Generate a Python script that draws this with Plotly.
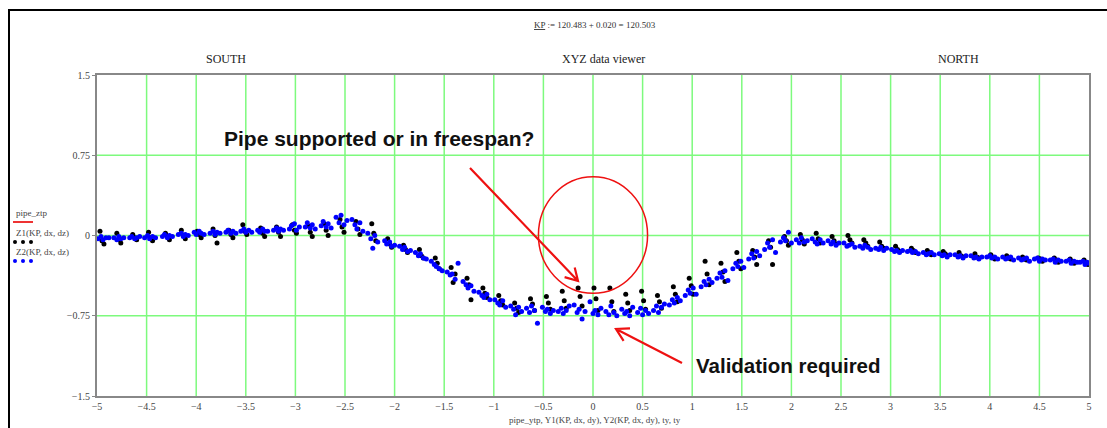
import plotly.graph_objects as go

# ---------------- data ----------------
# Z2(KP,dx,dz) - blue points
z2_x = [
    -4.99, -4.96, -4.94, -4.91, -4.88,
    -4.83, -4.80, -4.78, -4.76, -4.73,
    -4.67, -4.65, -4.62, -4.60, -4.57,
    -4.52, -4.49, -4.47, -4.44, -4.41,
    -4.34, -4.32, -4.29, -4.27, -4.24,
    -4.18, -4.15, -4.13, -4.11, -4.08,
    -4.02, -4.00, -3.97, -3.95, -3.92,
    -3.86, -3.83, -3.81, -3.79, -3.76,
    -3.70, -3.68, -3.65, -3.63, -3.60,
    -3.55, -3.52, -3.50, -3.47, -3.44,
    -3.38, -3.36, -3.33, -3.31, -3.28,
    -3.22, -3.19, -3.17, -3.15, -3.12,
    -3.06, -3.04, -3.01, -2.99, -2.96,
    -2.90, -2.88, -2.85, -2.83, -2.80,
    -2.74, -2.72, -2.69, -2.67, -2.64,
    -2.59, -2.56, -2.54, -2.51, -2.48,
    -2.43, -2.40, -2.38, -2.35, -2.32,
    -2.27, -2.24, -2.22, -2.20, -2.17,
    -2.10, -2.08, -2.05, -2.03, -2.00,
    -1.95, -1.92, -1.90, -1.87, -1.84,
    -1.79, -1.76, -1.74, -1.71, -1.68,
    -1.63, -1.60, -1.58, -1.55, -1.52,
    -1.47, -1.44, -1.42, -1.39, -1.36,
    -1.31, -1.28, -1.26, -1.23, -1.20,
    -1.15, -1.12, -1.10, -1.07, -1.04,
    -0.99, -0.96, -0.94, -0.91, -0.88,
    -0.83, -0.80, -0.78, -0.75, -0.72,
    -0.67, -0.64, -0.62, -0.59, -0.56,
    -0.51, -0.48, -0.46, -0.43, -0.40,
    -0.35, -0.32, -0.30, -0.27, -0.24,
    -0.19, -0.16, -0.14, -0.11, -0.08,
    -0.03, 0.00, 0.02, 0.05, 0.08,
    0.13, 0.16, 0.18, 0.21, 0.24,
    0.29, 0.32, 0.34, 0.37, 0.40,
    0.45, 0.48, 0.50, 0.53, 0.56,
    0.61, 0.64, 0.66, 0.69, 0.72,
    0.77, 0.80, 0.82, 0.85, 0.88,
    0.93, 0.96, 0.98, 1.01, 1.04,
    1.09, 1.12, 1.14, 1.17, 1.20,
    1.25, 1.28, 1.30, 1.33, 1.36,
    1.41, 1.44, 1.46, 1.49, 1.52,
    1.57, 1.60, 1.62, 1.65, 1.68,
    1.73, 1.76, 1.78, 1.81, 1.84,
    1.89, 1.92, 1.94, 1.97, 2.00,
    2.05, 2.08, 2.10, 2.13, 2.16,
    2.21, 2.24, 2.26, 2.29, 2.32,
    2.37, 2.40, 2.42, 2.45, 2.48,
    2.53, 2.56, 2.58, 2.61, 2.64,
    2.69, 2.72, 2.74, 2.77, 2.80,
    2.85, 2.88, 2.90, 2.93, 2.96,
    3.01, 3.04, 3.06, 3.09, 3.12,
    3.17, 3.20, 3.22, 3.25, 3.28,
    3.33, 3.36, 3.38, 3.41, 3.44,
    3.49, 3.52, 3.54, 3.57, 3.60,
    3.65, 3.68, 3.70, 3.73, 3.76,
    3.81, 3.84, 3.86, 3.89, 3.92,
    3.97, 4.00, 4.02, 4.05, 4.08,
    4.13, 4.16, 4.18, 4.21, 4.24,
    4.29, 4.32, 4.34, 4.37, 4.40,
    4.45, 4.48, 4.50, 4.53, 4.56,
    4.61, 4.64, 4.66, 4.69, 4.72,
    4.77, 4.80, 4.82, 4.85, 4.88,
    4.91, 4.94, 4.96, 4.98, 5.00,
]
z2_y = [
    -0.03, -0.01, -0.04, -0.02, -0.02,
    -0.02, -0.04, -0.01, -0.03, -0.02,
    -0.02, -0.01, -0.03, -0.02, -0.01,
    -0.02, 0.00, -0.03, -0.01, -0.02,
    -0.01, 0.01, -0.02, 0.00, -0.01,
    0.01, 0.02, -0.01, 0.01, 0.00,
    0.03, 0.01, 0.04, 0.02, 0.01,
    0.02, 0.04, 0.01, 0.03, 0.02,
    0.03, 0.05, 0.02, 0.04, 0.02,
    0.04, 0.06, 0.03, 0.05, 0.03,
    0.05, 0.03, 0.06, 0.04, 0.04,
    0.05, 0.07, 0.04, 0.06, 0.05,
    0.06, 0.09, 0.11, 0.05, 0.08,
    0.08, 0.12, 0.07, 0.10, 0.06,
    0.09, 0.13, 0.08, 0.11, 0.07,
    0.17, 0.12, 0.19, 0.10, 0.14,
    0.15, 0.10, 0.06, 0.12, 0.04,
    0.02, -0.03, -0.12, 0.00, -0.06,
    -0.05, -0.08, -0.06, -0.10, -0.09,
    -0.10, -0.13, -0.11, -0.15, -0.14,
    -0.16, -0.19, -0.17, -0.21, -0.22,
    -0.24, -0.27, -0.29, -0.31, -0.33,
    -0.34, -0.37, -0.36, -0.41, -0.26,
    -0.43, -0.46, -0.49, -0.47, -0.52,
    -0.53, -0.56, -0.58, -0.55, -0.60,
    -0.60, -0.63, -0.65, -0.61, -0.67,
    -0.66, -0.69, -0.74, -0.67, -0.71,
    -0.68, -0.72, -0.66, -0.70, -0.82,
    -0.67, -0.71, -0.69, -0.73, -0.70,
    -0.71, -0.68, -0.73, -0.70, -0.66,
    -0.65, -0.72, -0.69, -0.78, -0.71,
    -0.62, -0.73, -0.70, -0.74, -0.68,
    -0.71, -0.74, -0.66, -0.72, -0.75,
    -0.69, -0.73, -0.71, -0.75, -0.67,
    -0.72, -0.68, -0.74, -0.70, -0.73,
    -0.70, -0.66, -0.72, -0.67, -0.64,
    -0.65, -0.60, -0.63, -0.58, -0.61,
    -0.56, -0.51, -0.54, -0.49, -0.55,
    -0.48, -0.43, -0.46, -0.41, -0.44,
    -0.40, -0.35, -0.39, -0.33, -0.42,
    -0.31, -0.26, -0.29, -0.24, -0.30,
    -0.22, -0.17, -0.21, -0.15, -0.19,
    -0.13, -0.07, -0.11, -0.04, -0.16,
    -0.06, -0.02, -0.05, 0.03, -0.07,
    -0.04, -0.07, -0.02, -0.06, -0.05,
    -0.03, -0.06, -0.08, -0.04, -0.07,
    -0.05, -0.08, -0.06, -0.09, -0.07,
    -0.07, -0.10, -0.09, -0.08, -0.11,
    -0.10, -0.12, -0.09, -0.11, -0.13,
    -0.12, -0.13, -0.11, -0.14, -0.12,
    -0.13, -0.15, -0.14, -0.16, -0.14,
    -0.15, -0.14, -0.16, -0.15, -0.17,
    -0.16, -0.18, -0.17, -0.16, -0.18,
    -0.17, -0.19, -0.18, -0.20, -0.18,
    -0.18, -0.20, -0.19, -0.21, -0.19,
    -0.19, -0.21, -0.20, -0.22, -0.20,
    -0.20, -0.19, -0.21, -0.20, -0.22,
    -0.20, -0.22, -0.21, -0.20, -0.23,
    -0.21, -0.23, -0.22, -0.21, -0.24,
    -0.22, -0.21, -0.24, -0.22, -0.23,
    -0.23, -0.22, -0.25, -0.23, -0.24,
    -0.24, -0.23, -0.26, -0.24, -0.25,
    -0.25, -0.24, -0.27, -0.25, -0.26,
]

# Z1(KP,dx,dz) - black points
z1_x = [
    -4.97, -4.95, -4.93,
    -4.80, -4.78, -4.76,
    -4.64, -4.62, -4.60,
    -4.48, -4.46, -4.44,
    -4.31, -4.29, -4.27,
    -4.15, -4.13, -4.11,
    -3.99, -3.97, -3.95,
    -3.83, -3.81, -3.79,
    -3.67, -3.65, -3.63,
    -3.53, -3.51, -3.49,
    -3.35, -3.33, -3.31,
    -3.19, -3.17, -3.15,
    -3.03, -3.01, -2.99,
    -2.87, -2.85, -2.83,
    -2.71, -2.69, -2.67,
    -2.55, -2.53, -2.51,
    -2.39, -2.37, -2.35,
    -2.23, -2.21, -2.19,
    -2.07, -2.05, -2.03,
    -1.91, -1.89, -1.87,
    -1.75, -1.73, -1.71,
    -1.59, -1.57, -1.55,
    -1.43, -1.41, -1.39,
    -1.27, -1.25, -1.23,
    -1.11, -1.09, -1.07,
    -0.95, -0.93, -0.91,
    -0.79, -0.77, -0.75,
    -0.63, -0.61, -0.59,
    -0.47, -0.45, -0.43,
    -0.31, -0.29, -0.27,
    -0.15, -0.13, -0.11,
    0.01, 0.03, 0.05,
    0.17, 0.19, 0.21,
    0.33, 0.35, 0.37,
    0.49, 0.51, 0.53,
    0.65, 0.67, 0.69,
    0.81, 0.83, 0.85,
    0.97, 0.99, 1.01,
    1.13, 1.15, 1.17,
    1.29, 1.31, 1.33,
    1.45, 1.47, 1.49,
    1.61, 1.63, 1.65,
    1.77, 1.79, 1.81,
    1.93, 1.95, 1.97,
    2.09, 2.11, 2.13,
    2.25, 2.27, 2.29,
    2.41, 2.43, 2.45,
    2.57, 2.59, 2.61,
    2.73, 2.75, 2.77,
    2.89, 2.91, 2.93,
    3.05, 3.07, 3.09,
    3.21, 3.23, 3.25,
    3.37, 3.39, 3.41,
    3.53, 3.55, 3.57,
    3.69, 3.71, 3.73,
    3.85, 3.87, 3.89,
    4.01, 4.03, 4.05,
    4.17, 4.19, 4.21,
    4.33, 4.35, 4.37,
    4.49, 4.51, 4.53,
    4.65, 4.67, 4.69,
    4.81, 4.83, 4.85,
    4.95, 4.97, 4.99,
]
z1_y = [
    0.04, -0.05, -0.08,
    0.02, -0.04, -0.07,
    0.01, -0.02, -0.04,
    0.03, -0.02, -0.05,
    0.02, -0.01, -0.04,
    0.05, 0.00, -0.03,
    0.04, 0.01, -0.02,
    0.06, 0.00, -0.07,
    0.05, 0.01, -0.02,
    0.10, 0.04, 0.01,
    0.07, 0.02, -0.01,
    0.08, 0.03, -0.01,
    0.10, 0.05, 0.02,
    0.09, 0.03, -0.01,
    0.11, 0.05, 0.00,
    0.15, 0.08, 0.03,
    0.13, 0.06, 0.01,
    0.11, 0.02, -0.05,
    -0.03, -0.08, -0.11,
    -0.09, -0.13, -0.16,
    -0.13, -0.19, -0.21,
    -0.21, -0.26, -0.31,
    -0.30, -0.44, -0.36,
    -0.40, -0.46, -0.60,
    -0.49, -0.54, -0.58,
    -0.56, -0.61, -0.65,
    -0.63, -0.68, -0.72,
    -0.59, -0.64, -0.70,
    -0.57, -0.63, -0.69,
    -0.52, -0.61, -0.68,
    -0.49, -0.57, -0.66,
    -0.49, -0.59, -0.70,
    -0.49, -0.62, -0.71,
    -0.55, -0.63, -0.70,
    -0.52, -0.61, -0.69,
    -0.56, -0.62, -0.68,
    -0.48, -0.55, -0.62,
    -0.40, -0.47, -0.55,
    -0.24, -0.36, -0.46,
    -0.26, -0.34, -0.43,
    -0.16, -0.24, -0.31,
    -0.14, -0.20, -0.27,
    -0.05, -0.11, -0.27,
    -0.01, -0.05, -0.09,
    0.01, -0.04, -0.08,
    0.02, -0.03, -0.07,
    -0.01, -0.05, -0.08,
    0.00, -0.04, -0.07,
    -0.04, -0.07, -0.10,
    -0.06, -0.10, -0.12,
    -0.10, -0.13, -0.15,
    -0.12, -0.14, -0.16,
    -0.14, -0.16, -0.18,
    -0.15, -0.17, -0.19,
    -0.16, -0.19, -0.20,
    -0.17, -0.20, -0.21,
    -0.18, -0.20, -0.22,
    -0.19, -0.21, -0.22,
    -0.20, -0.22, -0.23,
    -0.21, -0.22, -0.24,
    -0.21, -0.23, -0.25,
    -0.22, -0.24, -0.26,
    -0.23, -0.25, -0.27,
]

x_ticks = [-5, -4.5, -4, -3.5, -3, -2.5, -2, -1.5, -1, -0.5, 0, 0.5, 1, 1.5, 2, 2.5, 3, 3.5, 4, 4.5, 5]
x_tick_labels = ["\u22125", "\u22124.5", "\u22124", "\u22123.5", "\u22123", "\u22122.5", "\u22122", "\u22121.5",
                 "\u22121", "\u22120.5", "0", "0.5", "1", "1.5", "2", "2.5", "3", "3.5", "4", "4.5", "5"]
y_ticks = [-1.5, -0.75, 0, 0.75, 1.5]
y_tick_labels = ["\u22121.5", "\u22120.75", "0", "0.75", "1.5"]

# ---------------- layout geometry ----------------
W, H = 1107, 428
L, R, T, B = 97, 1089, 75, 396


def px(x):
    return (x - L) / (R - L)


def py(y):
    return (B - y) / (B - T)


SERIF = "Liberation Serif, Times New Roman, serif"
SANS = "Liberation Sans, Arial, sans-serif"
GREEN = "#7dfa7d"

fig = go.Figure()
fig.add_trace(go.Scatter(x=z1_x, y=z1_y, mode="markers", name="Z1(KP,dx,dz)",
                         marker=dict(color="black", size=5, symbol="circle")))
fig.add_trace(go.Scatter(x=z2_x, y=z2_y, mode="markers", name="Z2(KP,dx,dz)",
                         marker=dict(color="#0000ff", size=5, symbol="circle")))

shapes = []
# vertical green grid lines
for v in x_ticks[1:-1]:
    shapes.append(dict(type="line", xref="x", yref="paper", x0=v, x1=v, y0=0, y1=1,
                       line=dict(color=GREEN, width=1.5), layer="below"))
for v in [-0.75, 0, 0.75]:
    shapes.append(dict(type="line", xref="paper", yref="y", x0=0, x1=1, y0=v, y1=v,
                       line=dict(color=GREEN, width=1.5), layer="below"))

# red circle
shapes.append(dict(type="circle", xref="x", yref="y", x0=-0.55, x1=0.55, y0=-0.54, y1=0.55,
                   line=dict(color="#ee1111", width=1.5)))


def arrow(x0, y0, x1, y1, w1x, w1y, w2x, w2y):
    path = (f"M {px(x0)},{py(y0)} L {px(x1)},{py(y1)} "
            f"M {px(w1x)},{py(w1y)} L {px(x1)},{py(y1)} L {px(w2x)},{py(w2y)}")
    return dict(type="path", xref="paper", yref="paper", path=path,
                line=dict(color="#ee1111", width=2.2))


shapes.append(arrow(470, 168, 578, 281, 574.7, 267.4, 564.6, 277.1))
shapes.append(arrow(682, 363, 616, 329, 623.6, 340.8, 630, 328.3))

# outer frame (left and top)
shapes.append(dict(type="line", xref="paper", yref="paper", x0=px(9), x1=px(9), y0=py(10), y1=py(430),
                   line=dict(color="black", width=2)))
shapes.append(dict(type="line", xref="paper", yref="paper", x0=px(8), x1=px(1110), y0=py(10), y1=py(10),
                   line=dict(color="black", width=2)))

# legend symbols
shapes.append(dict(type="line", xref="paper", yref="paper", x0=px(13), x1=px(33), y0=py(222), y1=py(222),
                   line=dict(color="#ee3333", width=2)))
for cx in [15, 23, 31]:
    shapes.append(dict(type="circle", xref="paper", yref="paper", x0=px(cx - 2), x1=px(cx + 2),
                       y0=py(244), y1=py(240), fillcolor="black", line=dict(width=0)))
    shapes.append(dict(type="circle", xref="paper", yref="paper", x0=px(cx - 2), x1=px(cx + 2),
                       y0=py(263), y1=py(259), fillcolor="#0000ff", line=dict(width=0)))

annotations = [
    dict(text="<u>KP</u> := 120.483 + 0.020 = 120.503", x=px(595), y=py(25),
         font=dict(family=SERIF, size=9, color="#333")),
    dict(text="XYZ data viewer", x=px(603), y=py(59), font=dict(family=SERIF, size=12, color="#222")),
    dict(text="SOUTH", x=px(226), y=py(59), font=dict(family=SERIF, size=12, color="#222")),
    dict(text="NORTH", x=px(958), y=py(59), font=dict(family=SERIF, size=12, color="#222")),
    dict(text="<b>Pipe supported or in freespan?</b>", x=px(379), y=py(138),
         font=dict(family=SANS, size=21, color="#111")),
    dict(text="<b>Validation required</b>", x=px(788), y=py(365),
         font=dict(family=SANS, size=20.5, color="#111")),
    dict(text="pipe_ztp", x=px(14), y=py(213), xanchor="left",
         font=dict(family=SERIF, size=9, color="#444")),
    dict(text="Z1(KP, dx, dz)", x=px(14), y=py(233), xanchor="left",
         font=dict(family=SERIF, size=9, color="#444")),
    dict(text="Z2(KP, dx, dz)", x=px(14), y=py(252), xanchor="left",
         font=dict(family=SERIF, size=9, color="#444")),
    dict(text="pipe_ytp, Y1(KP, dx, dy), Y2(KP, dx, dy), ty, ty", x=px(595), y=py(420),
         font=dict(family=SERIF, size=9, color="#444")),
]
for a in annotations:
    a.setdefault("xref", "paper")
    a.setdefault("yref", "paper")
    a.setdefault("showarrow", False)
    a.setdefault("xanchor", "center")
    a.setdefault("yanchor", "middle")

fig.update_layout(
    width=W, height=H,
    margin=dict(l=L, r=W - R, t=T, b=H - B, pad=0),
    paper_bgcolor="white", plot_bgcolor="white",
    showlegend=False,
    shapes=shapes,
    annotations=annotations,
    xaxis=dict(range=[-5, 5], tickvals=x_ticks, ticktext=x_tick_labels, showgrid=False, zeroline=False,
               showline=True, linecolor="#888", linewidth=2, mirror=True,
               ticks="", tickfont=dict(family=SERIF, size=10, color="#444")),
    yaxis=dict(range=[-1.5, 1.5], tickvals=y_ticks, ticktext=y_tick_labels, showgrid=False, zeroline=False,
               showline=True, linecolor="#888", linewidth=2, mirror=True,
               ticks="outside", ticklen=3, tickcolor="#888", tickfont=dict(family=SERIF, size=10, color="#444")),
)

fig.write_html("out.html")
